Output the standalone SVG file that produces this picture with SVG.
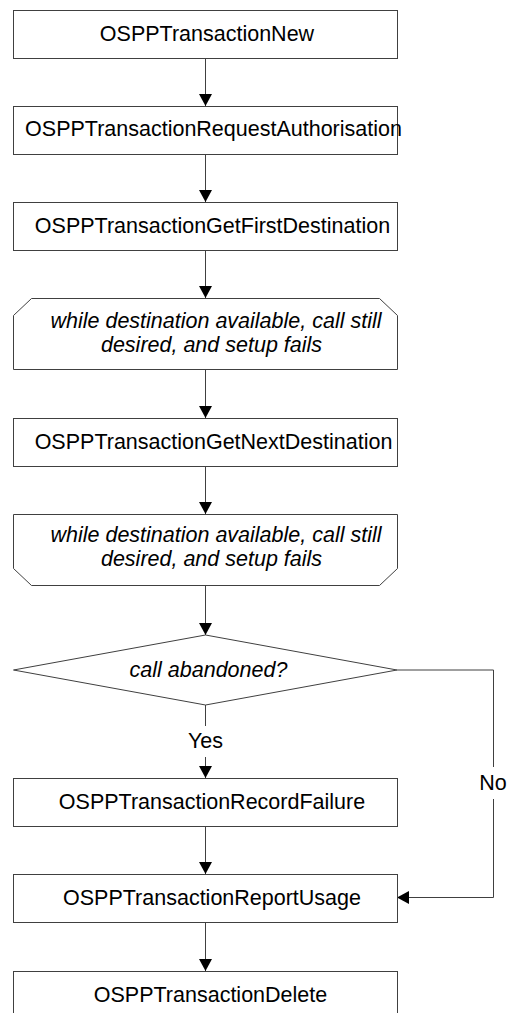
<svg xmlns="http://www.w3.org/2000/svg" width="509" height="1013" viewBox="0 0 509 1013">
  <style>
    .shape { fill: #ffffff; stroke: #404040; stroke-width: 1; }
    .edge { fill: none; stroke: #404040; stroke-width: 1; }
    .lbl { font-family: "Liberation Sans", Arial, sans-serif; font-size: 21.5px; fill: #000000; text-anchor: middle; }
    .cond { font-style: italic; }
  </style>
  <defs>
    <marker id="arrow" viewBox="0 0 12 13" refX="12" refY="6.5" markerWidth="12" markerHeight="13" markerUnits="userSpaceOnUse" orient="auto">
      <path d="M0,0 L12,6.5 L0,13 Z" fill="#000000"/>
    </marker>
  </defs>
  <rect width="509" height="1013" fill="#ffffff"/>

  <g id="connectors">
    <line class="edge" x1="205.5" y1="58" x2="205.5" y2="106" marker-end="url(#arrow)"/>
    <line class="edge" x1="205.5" y1="154" x2="205.5" y2="202" marker-end="url(#arrow)"/>
    <line class="edge" x1="205.5" y1="250" x2="205.5" y2="298" marker-end="url(#arrow)"/>
    <line class="edge" x1="205.5" y1="369" x2="205.5" y2="418" marker-end="url(#arrow)"/>
    <line class="edge" x1="205.5" y1="466" x2="205.5" y2="514" marker-end="url(#arrow)"/>
    <line class="edge" x1="205.5" y1="585" x2="205.5" y2="635" marker-end="url(#arrow)"/>
    <!-- Yes branch -->
    <line class="edge" x1="205.5" y1="705" x2="205.5" y2="726"/>
    <line class="edge" x1="205.5" y1="757" x2="205.5" y2="778" marker-end="url(#arrow)"/>
    <text class="lbl" x="205.5" y="748">Yes</text>
    <!-- No branch -->
    <polyline class="edge" points="397,670 493.5,670 493.5,767"/>
    <polyline class="edge" points="493.5,799 493.5,897.5 397,897.5" marker-end="url(#arrow)"/>
    <text class="lbl" x="493" y="790">No</text>
    <line class="edge" x1="205.5" y1="826" x2="205.5" y2="874" marker-end="url(#arrow)"/>
    <line class="edge" x1="205.5" y1="922" x2="205.5" y2="971" marker-end="url(#arrow)"/>
  </g>

  <g id="new">
    <rect class="shape" x="13.5" y="10.5" width="384" height="48"/>
    <text class="lbl" x="207" y="41">OSPPTransactionNew</text>
  </g>
  <g id="request-authorisation">
    <rect class="shape" x="13.5" y="106.5" width="384" height="48"/>
    <text class="lbl" x="213.5" y="136">OSPPTransactionRequestAuthorisation</text>
  </g>
  <g id="get-first-destination">
    <rect class="shape" x="13.5" y="202.5" width="384" height="48"/>
    <text class="lbl" x="212.5" y="233">OSPPTransactionGetFirstDestination</text>
  </g>
  <g id="loop-start">
    <path class="shape" d="M13.5,315.5 L31.5,298.5 L379.5,298.5 L397.5,315.5 L397.5,369.5 L13.5,369.5 Z"/>
    <text class="lbl cond" x="216" y="328">while destination available, call still</text>
    <text class="lbl cond" x="211.5" y="352">desired, and setup fails</text>
  </g>
  <g id="get-next-destination">
    <rect class="shape" x="13.5" y="418.5" width="384" height="48"/>
    <text class="lbl" x="213.5" y="449">OSPPTransactionGetNextDestination</text>
  </g>
  <g id="loop-end">
    <path class="shape" d="M13.5,514.5 L397.5,514.5 L397.5,568.5 L379.5,585.5 L31.5,585.5 L13.5,568.5 Z"/>
    <text class="lbl cond" x="216" y="542">while destination available, call still</text>
    <text class="lbl cond" x="211.5" y="566">desired, and setup fails</text>
  </g>
  <g id="call-abandoned">
    <path class="shape" d="M205.5,635 L397,670 L205.5,705 L13.5,670 Z"/>
    <text class="lbl cond" x="208.5" y="677">call abandoned?</text>
  </g>
  <g id="record-failure">
    <rect class="shape" x="13.5" y="778.5" width="384" height="48"/>
    <text class="lbl" x="212" y="809">OSPPTransactionRecordFailure</text>
  </g>
  <g id="report-usage">
    <rect class="shape" x="13.5" y="874.5" width="384" height="48"/>
    <text class="lbl" x="212" y="905">OSPPTransactionReportUsage</text>
  </g>
  <g id="delete">
    <rect class="shape" x="13.5" y="971.5" width="384" height="48"/>
    <text class="lbl" x="210.5" y="1002">OSPPTransactionDelete</text>
  </g>
</svg>
